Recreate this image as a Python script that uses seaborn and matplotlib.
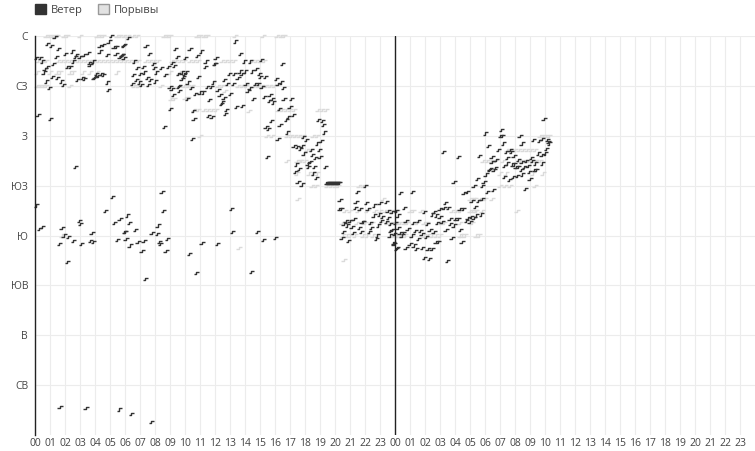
import numpy as np
import pandas as pd
import matplotlib
matplotlib.use('Agg')
import matplotlib.pyplot as plt
from matplotlib.path import Path
from matplotlib.patches import Patch
import seaborn as sns

# time in minutes from 00:00 of the first day, direction in degrees
wind_min = [
    80, 49, 65, 95, 121, 151, 167, 180, 196, 213,
    260, 273, 296, 305, 316, 327, 353, 289, 260, 324,
    340, 348, 7, 23, 31, 49, 40, 36, 73, 87,
    129, 143, 163, 153, 217, 233, 247, 253, 267, 273,
    220, 240, 236, 71, 89, 105, 113, 47, 57, 169,
    191, 199, 289, 295, 12, 63, 163, 7, 311, 281,
    17, 31, 108, 177, 183, 116, 133, 153, 97, 185,
    228, 223, 233, 319, 340, 329, 359, 129, 100, 204,
    337, 387, 467,
    373, 356, 351, 345, 356, 399, 444, 457, 409, 433,
    473, 479, 487, 505, 535, 551, 561, 569, 559, 601,
    620, 649, 665, 684, 681, 719, 393, 423, 439, 407,
    449, 463, 391, 417, 425, 455, 481, 521, 540, 548,
    575, 588, 593, 599, 607, 588, 577, 575, 612, 625,
    655, 641, 660, 673, 689, 705, 713, 553, 577, 609,
    697, 543, 633, 636, 695, 708, 519, 631, 508, 513,
    369, 377, 361, 401, 364, 380, 412, 436, 428, 468,
    489, 492, 497, 503, 529, 524, 617, 668, 647, 441,
    801, 823, 724, 721, 839, 863, 905, 991, 777, 799,
    820, 828, 841, 871, 887, 897, 903, 921, 967, 812,
    759, 769, 793, 844, 860, 852, 881, 895, 908,
    972, 985, 993, 732, 740, 756, 783, 745, 751,
    873, 919, 940, 948, 953, 937, 996, 1025, 807, 831,
    767, 761, 977, 1020, 1033, 1015, 1007, 980, 945,
    924, 935, 1009, 1073, 972, 1036, 1049, 1063, 1068, 1076,
    929, 1047, 1057, 1041, 1052, 1068, 785, 791, 889, 913,
    961, 729, 865,
    1135, 1151, 1153, 1159, 1087, 1129, 1145, 1105, 1137, 1111,
    1121, 1140, 1100, 1092, 1095, 1119, 1113, 1127, 1161, 1166,
    1170, 1174, 1178, 1182, 1186, 1190, 1194, 1198, 1202, 1206,
    1210, 1214, 1218,
    1289, 1321, 1220, 1217,
    1225, 1284, 1327, 1359, 1380, 1407, 1281, 1300, 1332, 1356,
    1377, 1391, 1412, 1415, 1428, 1244, 1260, 1276, 1308, 1313,
    1343, 1385, 1407, 1441, 1236, 1249, 1268, 1233, 1273, 1297,
    1305, 1337, 1345, 1375, 1423, 1369, 1367, 1420, 1228, 1255,
    1433, 1447,
    1633, 1695, 1676, 1463, 1511, 1447, 1479, 1559, 1452, 1641,
    1620, 1636, 1655, 1596, 1607, 1620, 1591, 1660, 1681, 1692,
    1700, 1713, 1732, 1745, 1716, 1729, 1748, 1756, 1423, 1452,
    1484, 1513, 1535, 1569, 1609, 1628, 1663, 1676, 1727, 1740,
    1428, 1460, 1473, 1492, 1521, 1543, 1580, 1596, 1644, 1703,
    1439, 1468, 1508, 1548, 1567, 1668, 1436, 1449, 1484, 1500,
    1516, 1527, 1551, 1572, 1588, 1604, 1615, 1708, 1559, 1577,
    1649, 1535,
    2036, 1801, 1865, 1863, 1871, 1873, 1940, 1815, 1855, 1887,
    1903, 1905, 1948, 1993, 2017, 2028, 2049, 2055, 2057, 2047,
    1777, 1828, 1889, 1916, 2015, 2028, 2041, 1828, 1847, 1889,
    1911, 1879, 1935, 1948, 1967, 1985, 1991, 2001, 2031, 1919,
    1820, 1817, 1841, 1836, 1924, 1932, 1945, 1959, 1972, 1977,
    1999, 2007, 1804, 1879, 1897, 1913, 1929, 1951, 1980, 1769,
    1796, 1791, 1833, 1809, 1961, 1775, 1788, 1761, 1785, 1767,
    1756,
]
wind_dir = [
    359, 353, 351, 348, 344, 346, 343, 341, 343, 345,
    351, 352, 355, 360, 350, 350, 351, 343, 346, 344,
    341, 343, 340, 340, 337, 332, 330, 327, 335, 341,
    332, 332, 341, 337, 336, 337, 326, 324, 326, 325,
    334, 323, 322, 323, 322, 319, 316, 319, 313, 320,
    322, 321, 318, 311, 289, 285, 242, 207, 215, 202,
    186, 188, 187, 193, 190, 180, 179, 175, 172, 172,
    182, 175, 174, 191, 195, 176, 183, 156, 25, 24,
    23, 19, 12,
    358, 352, 343, 342, 340, 337, 351, 344, 331, 332,
    335, 331, 327, 331, 332, 336, 348, 341, 333, 340,
    348, 342, 346, 337, 332, 335, 325, 326, 327, 320,
    322, 320, 317, 318, 316, 316, 319, 325, 314, 312,
    326, 327, 323, 326, 327, 321, 315, 314, 318, 313,
    323, 308, 309, 309, 314, 314, 318, 307, 310, 303,
    302, 294, 292, 285, 288, 287, 278, 267, 219, 202,
    198, 191, 183, 185, 177, 171, 174, 175, 166, 182,
    181, 189, 174, 172, 177, 166, 163, 173, 146, 141,
    355, 344, 340, 335, 337, 337, 338, 335, 326, 326,
    328, 326, 328, 328, 330, 326, 323, 323, 321, 322,
    320, 317, 317, 317, 313, 310, 317, 317, 314,
    317, 318, 313, 311, 307, 304, 308, 299, 300,
    303, 305, 307, 303, 300, 301, 303, 303, 296, 297,
    293, 290, 294, 296, 289, 287, 284, 280, 283,
    278, 276, 273, 269, 267, 261, 260, 258, 261, 254,
    251, 244, 240, 237, 228, 226, 204, 183, 183, 176,
    178, 172, 147,
    284, 283, 280, 273, 266, 263, 265, 257, 257, 253,
    250, 251, 246, 245, 242, 242, 236, 232, 242, 227,
    227, 227, 227, 227, 227, 227, 227, 227, 227, 227,
    227, 227, 227,
    219, 225, 212, 204,
    204, 210, 209, 207, 209, 210, 205, 204, 204, 198,
    199, 197, 202, 196, 201, 193, 193, 195, 192, 192,
    191, 193, 192, 191, 190, 189, 188, 183, 182, 187,
    183, 183, 187, 189, 184, 180, 177, 180, 178, 175,
    173, 168,
    255, 251, 228, 218, 219, 202, 205, 201, 198, 209,
    204, 205, 205, 201, 198, 197, 199, 195, 195, 195,
    204, 204, 196, 197, 218, 219, 211, 225, 190, 187,
    193, 191, 193, 190, 191, 192, 190, 189, 193, 192,
    185, 182, 182, 186, 184, 184, 185, 183, 185, 185,
    181, 180, 180, 181, 179, 178, 172, 169, 169, 172,
    171, 168, 169, 168, 168, 174, 174, 174, 160, 159,
    157, 177,
    285, 272, 275, 270, 270, 263, 270, 261, 257, 255,
    257, 255, 263, 266, 265, 267, 266, 264, 263, 258,
    252, 251, 250, 252, 254, 253, 254, 246, 248, 245,
    244, 243, 248, 246, 247, 250, 247, 245, 245, 244,
    240, 239, 241, 239, 242, 242, 239, 242, 243, 237,
    239, 239, 235, 233, 230, 233, 234, 235, 231, 231,
    228, 225, 221, 219, 222, 211, 213, 206, 199, 198,
    196,
]

# gusts (minutes), grouped by the direction row they sit on
g360 = [44, 56, 68, 80, 88, 116, 128, 180, 248, 260, 272, 328, 340, 356, 372,
        392, 408, 516, 528, 540, 648, 660, 676, 688, 800, 912, 968, 984, 996]
g338 = [12, 28, 44, 92, 108, 124, 140, 156, 172, 188, 204, 220, 236, 252, 268,
        284, 300, 316, 332, 348, 364, 380, 396, 412, 444, 460, 476, 492, 548,
        564, 580, 596, 620, 636, 652, 748, 764, 780, 796, 868, 884, 900, 916]
g327 = [8, 60, 88, 100, 140, 152, 192, 220, 248, 328, 540, 580]
g315 = [8, 20, 32, 44, 140, 396, 412, 504, 596, 612, 628, 732, 748, 812, 828,
        844, 876, 892, 908, 924, 940, 956]
g293 = [636, 652, 676, 692, 708, 724, 972, 988, 1004, 1020, 1036, 1132, 1148, 1164]
g270 = [660, 928, 948, 1008, 1024, 1040, 1056, 1072, 1112, 1128, 2020, 2032, 2044, 2056]
g257 = [1088, 1104, 1888, 1904, 1920, 1936, 1952, 1968, 1984, 2000]
g247 = [1008, 1048, 1060, 1064, 1080, 1792, 1808, 1824, 1840, 1872, 1940, 1956,
        1972, 1988, 2004, 2020]
g236 = [1048, 1096, 1112, 1128, 1860, 1884, 1992, 2032]
g225 = [1108, 1124, 1168, 1184, 1200, 1212, 1296, 1312, 1860, 1880, 1900, 2000]
g213 = [1052, 1392, 1740, 1752, 1760, 1780, 1800, 1828]
g202 = [1240, 1260, 1292, 1328, 1360, 1380, 1400, 1428, 1448, 1500, 1512, 1544,
        1668, 1684, 1700, 1740, 1748, 1760, 1764, 1788, 1928]
g191 = [1228, 1252, 1288, 1320, 1348, 1380, 1408, 1424, 1440, 1448, 1460, 1476,
        1488, 1528, 1556, 1568, 1624, 1636, 1700, 1748]
g180 = [108, 1232, 1248, 1260, 1280, 1312, 1328, 1352, 1432, 1448, 1460, 1464,
        1480, 1556, 1572, 1588, 1604, 1620, 1700, 1708, 1720, 1764, 1776]
gust_misc_min = [544, 556, 600, 612, 760, 856, 816, 1236]
gust_misc_dir = [303, 303, 304, 304, 310, 292, 169, 158]

dir_ticks = [45, 90, 135, 180, 225, 270, 315, 360]
dir_labels = ['СВ', 'В', 'ЮВ', 'Ю', 'ЮЗ', 'З', 'СЗ', 'С']
hour_labels = ['%02d' % (h % 24) for h in range(48)]

gust_rows = [(360, g360), (337.5, g338), (327, g327), (315, g315), (293, g293),
             (270, g270), (257, g257), (247, g247), (236, g236), (225, g225),
             (213, g213), (202, g202), (191, g191), (180, g180)]
g_min, g_dir = list(gust_misc_min), list(gust_misc_dir)
for level, times in gust_rows:
    g_min += times
    g_dir += [level] * len(times)

wind = pd.DataFrame({'hour': np.array(wind_min) / 60, 'dir': wind_dir})
gust = pd.DataFrame({'hour': np.array(g_min) / 60, 'dir': g_dir})

sns.set_theme(style='whitegrid')
plt.rcParams['font.family'] = ['Open Sans', 'DejaVu Sans']

fig = plt.figure(figsize=(7.55, 4.51), dpi=100)
ax = fig.add_axes([35 / 755, 16 / 451, 720 / 755, 399 / 451])

# little step-shaped tick used as the point marker
step = Path([(-0.5, -0.2), (-0.05, -0.2), (-0.05, 0.2), (0.5, 0.2)],
            [Path.MOVETO, Path.LINETO, Path.LINETO, Path.LINETO])

sns.scatterplot(data=gust, x='hour', y='dir', marker=step, s=15, color='#dadada',
                facecolor='none', edgecolor='#dadada', linewidth=1.0,
                legend=False, ax=ax, zorder=3, clip_on=False)
sns.scatterplot(data=wind, x='hour', y='dir', marker=step, s=15, color='#333333',
                facecolor='none', edgecolor='#333333', linewidth=1.0,
                legend=False, ax=ax, zorder=4, clip_on=False)

ax.axvline(24, color='#222222', lw=1, zorder=5)
ax.set_xlim(0, 48)
ax.set_ylim(0, 360)
ax.set_xticks(range(48))
ax.set_xticklabels(hour_labels)
ax.set_yticks(dir_ticks)
ax.set_yticklabels(dir_labels)
ax.set_xlabel('')
ax.set_ylabel('')
ax.grid(True, color='#ececec', lw=0.8)
ax.set_facecolor('white')
for side in ['top', 'right', 'bottom']:
    ax.spines[side].set_visible(False)
ax.spines['left'].set_color('#222222')
ax.spines['left'].set_linewidth(1)
ax.spines['left'].set_zorder(5)
ax.tick_params(axis='both', length=0, labelsize=7.5, colors='#444444')
ax.tick_params(axis='x', pad=2)
ax.tick_params(axis='y', pad=5)

handles = [Patch(facecolor='#333333', edgecolor='#333333', label='Ветер'),
           Patch(facecolor='#e2e2e2', edgecolor='#999999', label='Порывы')]
fig.legend(handles=handles, loc='upper left', bbox_to_anchor=(35 / 755, 1 - 4 / 451),
           ncol=2, frameon=False, fontsize=8, handlelength=1.0, handleheight=1.0,
           handletextpad=0.4, columnspacing=1.4, borderpad=0, borderaxespad=0,
           labelcolor='#444444')

fig.savefig('out.png', dpi=100)
